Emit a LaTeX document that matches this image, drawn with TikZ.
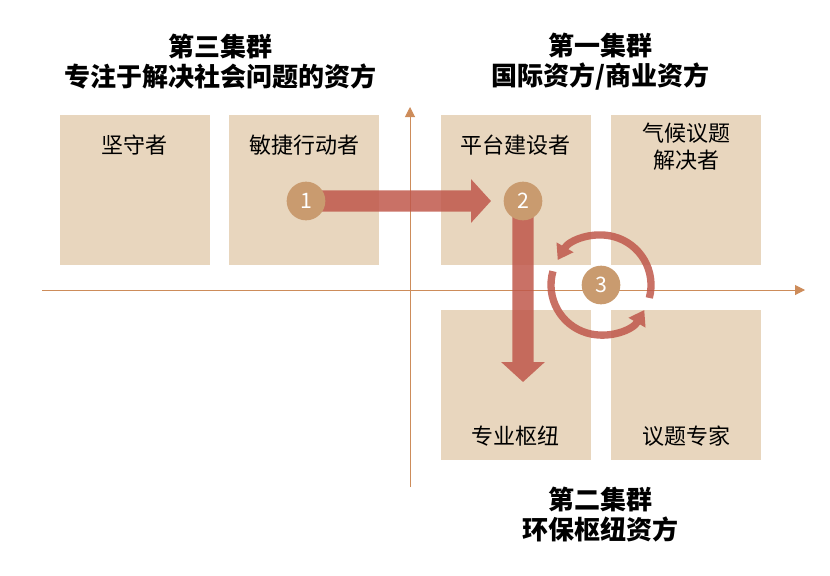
\documentclass[tikz,border=0pt]{standalone}
\usepackage{fontspec}
\setmainfont{Noto Sans CJK SC}
\usetikzlibrary{arrows.meta, positioning}

\definecolor{cellbg}{HTML}{E8D6BE}
\definecolor{axisc}{HTML}{CD8C5A}
\definecolor{arrowred}{HTML}{C0584B}
\definecolor{numc}{HTML}{C99B6F}

\begin{document}
\begin{tikzpicture}[x=0.75pt, y=-0.75pt,
  cell/.style={fill=cellbg, minimum width=112.5pt, minimum height=112.5pt, inner sep=0pt},
  celltext/.style={font=\fontsize{16.5}{20}\selectfont, align=center, inner sep=0pt},
  clustertitle/.style={font=\fontsize{19.5}{22.5}\selectfont\bfseries, align=center},
  axisline/.style={draw=axisc, line width=0.75pt, -{Triangle[length=7.5pt, width=7.5pt]}},
  bigarrow/.style={draw=arrowred, line width=16pt, -{Triangle[length=15pt, width=32pt]}},
  ringarrow/.style={draw=arrowred, line width=5.5pt, -{Triangle[length=11pt, width=14pt]}},
  numdot/.style={circle, fill=numc, minimum size=29pt, inner sep=0pt, text=white, font=\fontsize{16}{16}\selectfont}]
  \useasboundingbox (0,0) rectangle (830,575);

  % cells
  \node[cell] (keep) at (134.5,190) {};
  \node[cell] (agile) at (304,190) {};
  \node[cell] (platform) at (515.5,190) {};
  \node[cell] (climate) at (686,190) {};
  \node[cell] (hub) at (515.5,384.5) {};
  \node[cell] (expert) at (686,384.5) {};

  \node[celltext, below=15pt of keep.north] {坚守者};
  \node[celltext, below=15pt of agile.north] {敏捷行动者};
  \node[celltext, below=15pt of platform.north] {平台建设者};
  \node[celltext, below=6pt of climate.north] {气候议题\\解决者};
  \node[celltext, above=10pt of hub.south] {专业枢纽};
  \node[celltext, above=10pt of expert.south] {议题专家};

  % axes
  \coordinate (xs) at (42,290);
  \coordinate (xe) at (805,290);
  \coordinate (ys) at (410,487);
  \coordinate (ye) at (410,107);
  \draw[axisline] (xs) -- (xe);
  \draw[axisline] (ys) -- (ye);

  % titles
  \node[clustertitle] (third) at (220,62) {第三集群\\专注于解决社会问题的资方};
  \node[clustertitle] (first) at (600,62) {第一集群\\国际资方/商业资方};
  \node[clustertitle] (second) at (600,515) {第二集群\\环保枢纽资方};

  % moves
  \coordinate (p1) at (306,201);
  \coordinate (p2) at (523,201);
  \coordinate (p3) at (601,285);
  \coordinate (t1) at (491,201);
  \coordinate (t2) at (523,382);
  \begin{scope}[transparency group, opacity=.85]
    \draw[bigarrow] (p1) -- (t1);
    \draw[bigarrow] (p2) -- (t2);
    \draw[ringarrow] ([shift={(15:50)}]p3) arc[start angle=15, end angle=-150, radius=50];
    \draw[ringarrow] ([shift={(196:50)}]p3) arc[start angle=196, end angle=30, radius=50];
  \end{scope}

  \node[numdot] (n1) at (p1) {1};
  \node[numdot] (n2) at (p2) {2};
  \node[numdot] (n3) at (p3) {3};
\end{tikzpicture}
\end{document}
